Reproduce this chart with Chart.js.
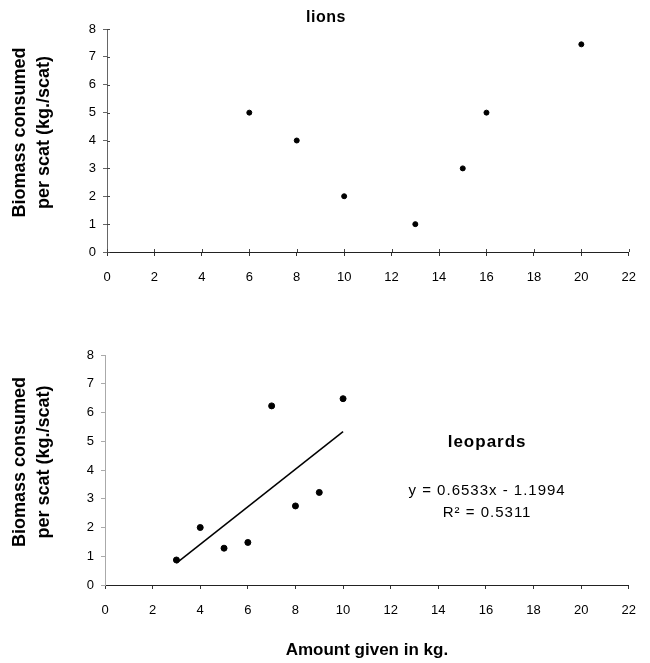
<!DOCTYPE html>
<html>
<head>
<meta charset="utf-8">
<script src="https://cdn.jsdelivr.net/npm/chart.js@4/dist/chart.umd.min.js"></script>
<style>
  html, body { margin: 0; padding: 0; background: #ffffff; }
  #wrap { position: relative; width: 650px; height: 663px; }
  .box { position: absolute; left: 0; width: 650px; }
</style>
</head>
<body>
<div id="wrap">
  <div class="box" style="top:0;height:300px;"><canvas id="lions"></canvas></div>
  <div class="box" style="top:300px;height:363px;"><canvas id="leopards"></canvas></div>
</div>
<script>
// ---- data ----
const lionsX = [6, 8, 10, 13, 15, 16, 20];
const lionsY = [5, 4, 2, 1, 3, 5, 7.45];
const leopardsX = [3, 4, 5, 6, 7, 8, 9, 10];
const leopardsY = [0.87, 2.0, 1.28, 1.48, 6.23, 2.75, 3.22, 6.48];
const trendSlope = 0.6533;
const trendIntercept = -1.1994;
const trendRange = [3, 10];
const xMin = 0, xMax = 22, xStep = 2;
const yMin = 0, yMax = 8, yStep = 1;
const yTitle = ['Biomass consumed', 'per scat (kg./scat)'];
const xTitle = 'Amount given in kg.';
const lionsTitle = 'lions';
const leopardsTitle = 'leopards';
const eqText = 'y = 0.6533x - 1.1994';
const r2Text = 'R\u00B2 = 0.5311';

const FONT = 'Arial, "Liberation Sans", Helvetica, sans-serif';

function pts(xs, ys) { return xs.map((x, i) => ({ x: x, y: ys[i] })); }

const textPlugin = {
  id: 'texts',
  afterDraw(chart, args, opts) {
    const ctx = chart.ctx;
    const sx = chart.scales.x, sy = chart.scales.y;
    const ca = chart.chartArea;
    // rotated y-axis title
    if (opts.yTitle) {
      const cy = (ca.top + ca.bottom) / 2 + opts.yTitle.dy;
      ctx.save();
      ctx.font = opts.yTitle.font;
      ctx.fillStyle = '#000';
      ctx.textAlign = 'center';
      ctx.textBaseline = 'middle';
      opts.yTitle.lines.forEach((t, i) => {
        ctx.save();
        ctx.translate(opts.yTitle.xs[i], cy);
        ctx.rotate(-Math.PI / 2);
        ctx.fillText(t, 0, 0);
        ctx.restore();
      });
      ctx.restore();
    }
    // inner (cross) tick marks
    if (opts.innerTicks) {
      ctx.save();
      ctx.lineWidth = 1;
      ctx.strokeStyle = opts.innerTicks.color;
      const L = opts.innerTicks.len;
      ctx.beginPath();
      sx.ticks.forEach(t => {
        const p = Math.round(sx.getPixelForValue(t.value)) + 0.5;
        ctx.moveTo(p, ca.bottom); ctx.lineTo(p, ca.bottom - L);
      });
      sy.ticks.forEach(t => {
        const p = Math.round(sy.getPixelForValue(t.value)) + 0.5;
        ctx.moveTo(ca.left, p); ctx.lineTo(ca.left + L, p);
      });
      ctx.stroke();
      ctx.restore();
    }
    (opts.items || []).forEach(it => {
      ctx.save();
      ctx.font = it.font;
      if (it.spacing) ctx.letterSpacing = it.spacing;
      ctx.fillStyle = '#000';
      ctx.textAlign = 'center';
      ctx.textBaseline = 'middle';
      let px, py;
      if (it.data) { px = sx.getPixelForValue(it.data[0]); py = sy.getPixelForValue(it.data[1]); }
      else { px = it.px[0]; py = it.px[1]; }
      ctx.fillText(it.text, px, py);
      ctx.restore();
    });
  }
};

function makeScales(opts) {
  return {
    x: {
      type: 'linear', min: xMin, max: xMax,
      ticks: { stepSize: xStep, color: '#000', font: { family: FONT, size: 13 }, padding: 14, maxRotation: 0 },
      grid: { drawOnChartArea: false, drawTicks: true, tickLength: 4, tickColor: '#333' },
      border: { display: true, color: '#222', width: 1 },
      title: opts.xTitle ? { display: true, text: xTitle, color: '#000', font: { family: FONT, size: 17, weight: 'bold' }, padding: { top: 0, bottom: 2 } } : { display: false },
      afterFit: s => { s.height = opts.xHeight; }
    },
    y: {
      type: 'linear', min: yMin, max: yMax,
      ticks: { stepSize: yStep, color: '#000', font: { family: FONT, size: 13 }, padding: 7 },
      grid: { drawOnChartArea: false, drawTicks: true, tickLength: 4, tickColor: opts.yColor },
      border: { display: true, color: opts.yColor, width: 1 },
      title: { display: false },
      afterFit: s => { s.width = opts.yWidth; }
    }
  };
}

const yTitleOpts = { lines: yTitle, xs: [20, 44], dy: -8, font: 'bold 18px ' + FONT };

new Chart(document.getElementById('lions'), {
  type: 'scatter',
  data: {
    datasets: [{
      label: 'lions',
      data: pts(lionsX, lionsY),
      backgroundColor: '#000', borderColor: '#000',
      pointRadius: 2.5, pointHoverRadius: 2.5
    }]
  },
  options: {
    responsive: true, maintainAspectRatio: false, animation: false,
    layout: { padding: { top: 29, right: 12, left: 0, bottom: 0 } },
    plugins: {
      legend: { display: false }, tooltip: { enabled: false },
      texts: {
        yTitle: yTitleOpts,
        innerTicks: { color: '#444', len: 3 },
        items: [ { text: lionsTitle, font: 'bold 16px ' + FONT, spacing: '0.5px', px: [326, 18] } ]
      }
    },
    scales: makeScales({ xHeight: 48, yWidth: 107, yColor: '#666', xTitle: false })
  },
  plugins: [textPlugin]
});

new Chart(document.getElementById('leopards'), {
  type: 'scatter',
  data: {
    datasets: [{
      label: 'leopards',
      data: pts(leopardsX, leopardsY),
      backgroundColor: '#000', borderColor: '#000',
      pointRadius: 3, pointHoverRadius: 3
    }, {
      type: 'line',
      label: 'trend',
      data: trendRange.map(x => ({ x: x, y: trendSlope * x + trendIntercept })),
      borderColor: '#000', borderWidth: 1.5,
      pointRadius: 0, fill: false, tension: 0
    }]
  },
  options: {
    responsive: true, maintainAspectRatio: false, animation: false,
    layout: { padding: { top: 55, right: 12, left: 0, bottom: 0 } },
    plugins: {
      legend: { display: false }, tooltip: { enabled: false },
      texts: {
        yTitle: yTitleOpts,
        items: [
          { text: leopardsTitle, font: 'bold 17px ' + FONT, spacing: '1px', data: [16.05, 4.95] },
          { text: eqText, font: '15px ' + FONT, spacing: '1px', data: [16.05, 3.28] },
          { text: r2Text, font: '15px ' + FONT, spacing: '1px', data: [16.05, 2.5] }
        ]
      }
    },
    scales: makeScales({ xHeight: 78, yWidth: 105, yColor: '#aaa', xTitle: true })
  },
  plugins: [textPlugin]
});
</script>
</body>
</html>
